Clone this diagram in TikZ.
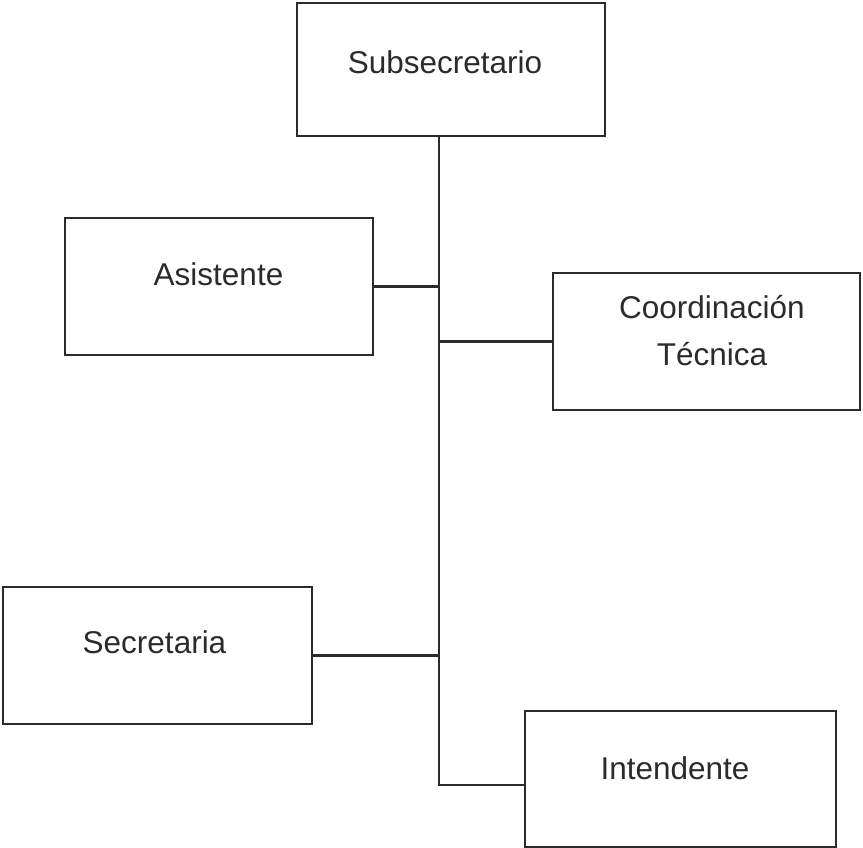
\documentclass[tikz,border=0pt]{standalone}
\usepackage{fontspec}
\setmainfont{Liberation Sans}
\definecolor{ink}{HTML}{2B2B2B}
\tikzset{
  box/.style={draw=ink, line width=2.2pt, rectangle, inner sep=0pt, outer sep=0pt},
  lbl/.style={text=ink, font=\fontsize{31.5}{38}\selectfont, anchor=base, inner sep=0pt},
  wire/.style={draw=ink, line width=2.2pt}
}
\begin{document}
\begin{tikzpicture}[x=1pt,y=-1pt]
\useasboundingbox (0,0) rectangle (863,848);
% boxes
\node[box, minimum width=308pt, minimum height=133pt] (sub) at (451,69.5) {};
\node[box, minimum width=308pt, minimum height=137pt] (asi) at (219,286.5) {};
\node[box, minimum width=307pt, minimum height=137pt] (coo) at (706.5,341.5) {};
\node[box, minimum width=309pt, minimum height=137pt] (sec) at (157.5,655.5) {};
\node[box, minimum width=311pt, minimum height=136pt] (int) at (680.5,779) {};
% labels
\node[lbl] at (445,74) {Subsecretario};
\node[lbl] at (218.5,285) {Asistente};
\node[lbl] at (712,318) {Coordinación};
\node[lbl] at (712,365) {Técnica};
\node[lbl] at (154.5,653) {Secretaria};
\node[lbl] at (675,779) {Intendente};
% connectors
\coordinate (ttop) at ([xshift=-12pt]sub.south);
\draw[wire] (ttop) |- ([yshift=-6pt]int.west);
\draw[wire] (asi.east) -- (asi.east -| ttop);
\draw[wire] (coo.west) -- (coo.west -| ttop);
\draw[wire] (sec.east) -- (sec.east -| ttop);
\end{tikzpicture}
\end{document}
